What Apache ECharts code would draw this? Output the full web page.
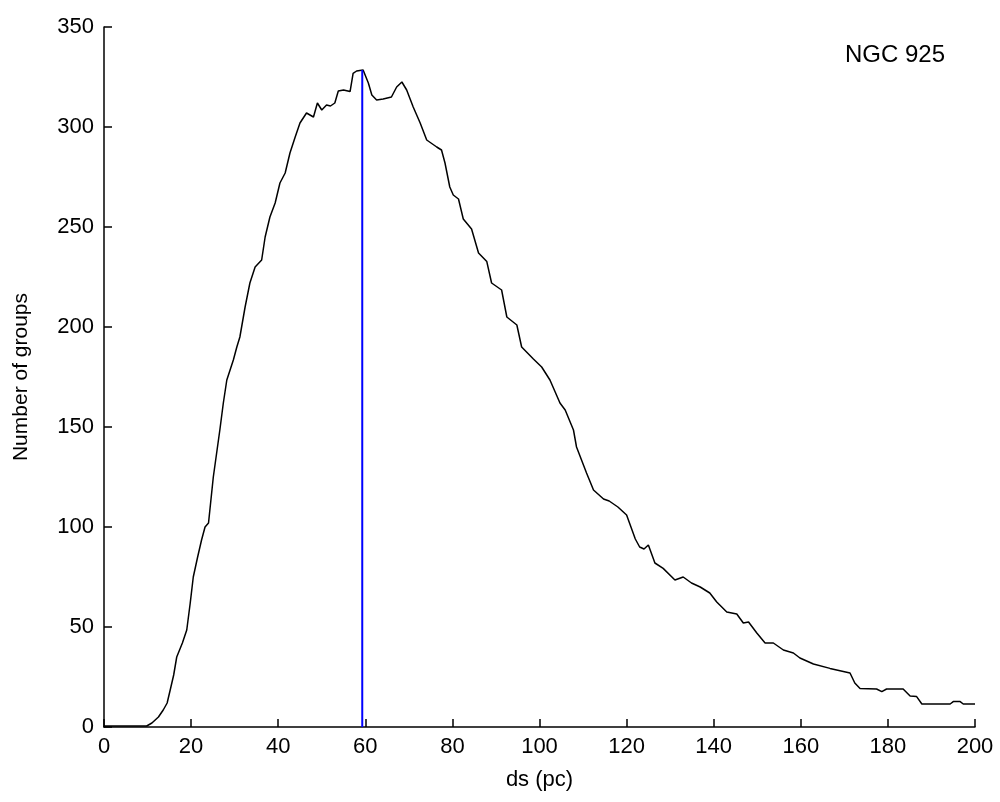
<!DOCTYPE html>
<html>
<head>
<meta charset="utf-8">
<script src="https://cdn.jsdelivr.net/npm/echarts@6/dist/echarts.min.js"></script>
<style>
html,body{margin:0;padding:0;background:#fff;}
#chart{width:1000px;height:802px;}
</style>
</head>
<body>
<div id="chart"></div>
<script>
// Distribution of group sizes (ds, pc) vs number of groups, NGC 925
const dsValues = [0,9.8,11,12.5,13.6,14.5,15.2,16,16.7,18,19,19.8,20.5,21.5,22.4,23.2,24,25.1,26.6,27.4,28.2,29.7,30.5,31.2,32.4,33.5,34.7,36.2,37,38.1,39.3,40.4,41.6,42.7,43.9,45,46.5,48.1,49,50,51.1,52,53,53.8,55,56.5,57.2,58,59.5,60.7,61.5,62.6,64.1,66,67.2,68.4,69.5,71,72.6,74.1,76.4,77.5,78.3,79.4,80.2,81.4,82.5,84.4,86,87.9,89,91.3,92.5,94.8,95.9,98.6,100.5,102.4,104.7,105.9,107.8,108.5,110.8,112.4,114.7,116,118,120,121,122,123,124,125,126.5,128.4,131.1,133,134.9,136.9,139.1,140.7,143,145.3,146.8,148,149.9,151.8,153.7,156,158.3,159.8,162.9,166.7,171.3,172.4,173.6,177.4,178.6,179.7,183.5,185.1,186.6,187.8,194.3,195,196.6,197.3,200];
const groupCounts = [0.5,0.5,2,5,8.5,12,18.5,26,35,42,48.5,62,75,85,93.5,100,102,125,148.5,162,173.5,183.5,190,195,210,222,230,233.5,245,255,262,272,277,287,295,302,307,305,312,308.5,311,310.5,312,318,318.5,317.7,326.8,328,328.5,322,316,313.5,314,315,320,322.5,318.5,310,302,293.5,290,288.5,282,270,266,264,254,249,237,232.7,222,218.5,205,201,190,184,180,173.5,162,158.5,148.5,140,127,118.5,114,113,110,106,100,94,90,89,91,82,79.3,73.5,75,72,70,67,62.5,57.5,56.5,52,52.5,47,42,42,38.5,37,34.5,31.5,29.3,27,22,19.3,19,17.7,19,19,15.5,15.2,11.5,11.5,12.7,12.7,11.5,11.5];
const peakDs = 59.3;
const peakCount = 328.5;
const xTicks = [0,20,40,60,80,100,120,140,160,180,200];
const yTicks = [0,50,100,150,200,250,300,350];
const label = "NGC 925";

const lineData = dsValues.map((x,i)=>[x, groupCounts[i]]);
const peakData = [[peakDs,0],[peakDs,peakCount]];

const chart = echarts.init(document.getElementById('chart'), null, {renderer:'canvas'});
const font = "'Liberation Sans', Arial, sans-serif";
chart.setOption({
  animation:false,
  backgroundColor:'#fff',
  grid:{left:104, right:25, top:27, bottom:75, containLabel:false},
  xAxis:{
    type:'value', min:xTicks[0], max:xTicks[xTicks.length-1], interval:20,
    name:'ds (pc)', nameLocation:'middle', nameGap:42,
    nameTextStyle:{color:'#000', fontSize:22, fontFamily:font},
    axisLine:{show:true, onZero:false, lineStyle:{color:'#000', width:1.5}},
    axisTick:{show:true, inside:true, length:8, lineStyle:{color:'#000', width:1.5}},
    axisLabel:{color:'#000', fontSize:22, fontFamily:font, margin:9},
    splitLine:{show:false}
  },
  yAxis:{
    type:'value', min:yTicks[0], max:yTicks[yTicks.length-1], interval:50,
    name:'Number of groups', nameLocation:'middle', nameGap:72, nameRotate:90,
    nameTextStyle:{color:'#000', fontSize:21, fontFamily:font},
    axisLine:{show:true, onZero:false, lineStyle:{color:'#000', width:1.5}},
    axisTick:{show:true, inside:true, length:8, lineStyle:{color:'#000', width:1.5}},
    axisLabel:{color:'#000', fontSize:22, fontFamily:font, margin:10},
    splitLine:{show:false}
  },
  graphic:[{type:'text', left:845, top:43, style:{text:label, fill:'#000', font:'24px '+font}}],
  series:[
    {type:'line', data:lineData, symbol:'none',
     lineStyle:{color:'#000', width:1.5}, z:3},
    {type:'line', data:peakData, symbol:'none',
     lineStyle:{color:'#0000ff', width:2}, z:4}
  ]
});
</script>
</body>
</html>
